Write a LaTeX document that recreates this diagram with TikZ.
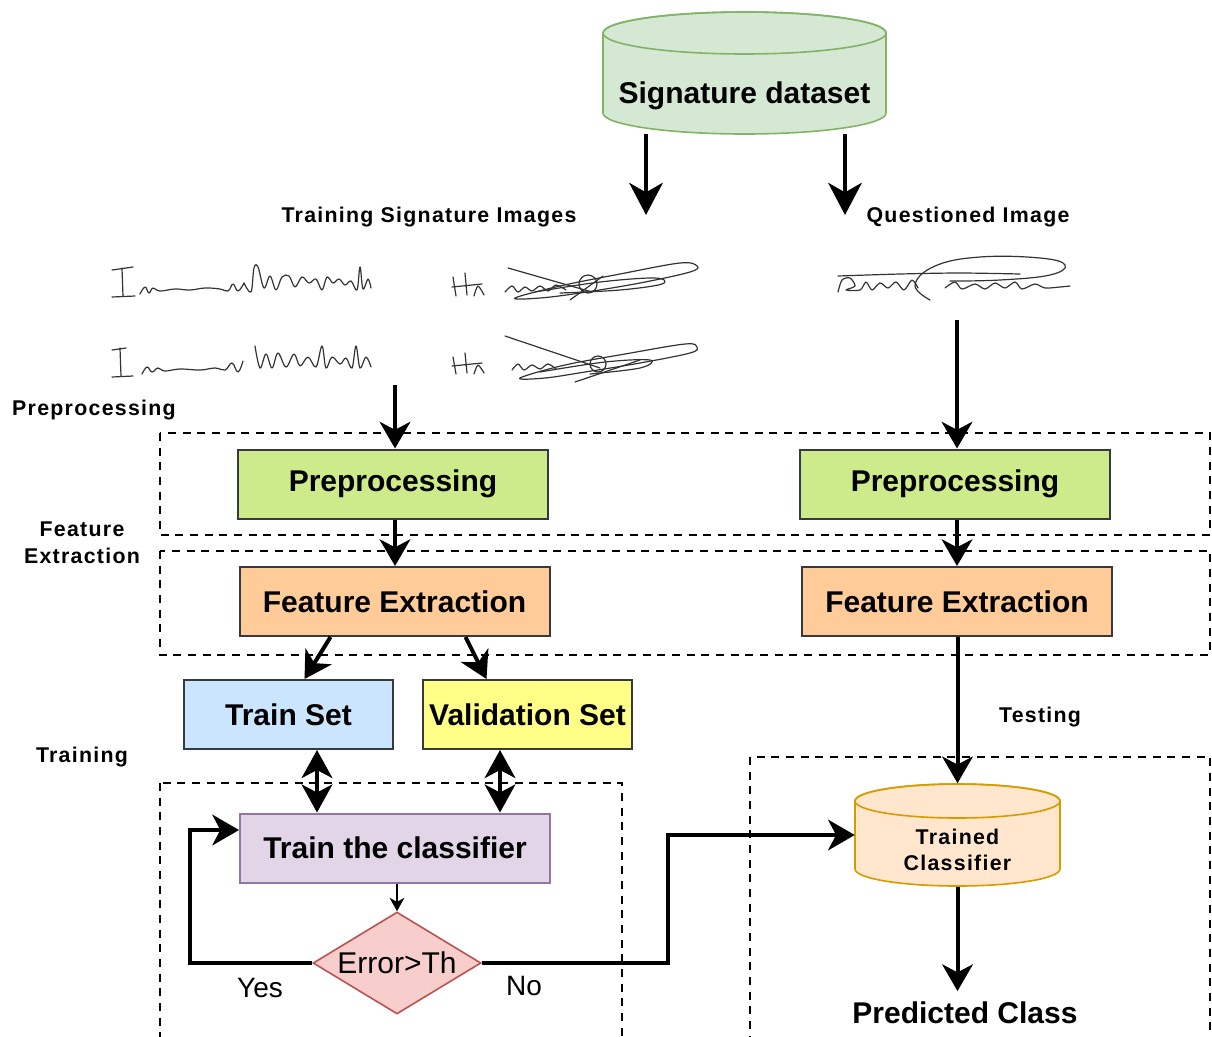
\documentclass[tikz,border=0pt]{standalone}
\usepackage{fontspec}
\setmainfont{Liberation Sans}
\newfontfamily\spacedsf[LetterSpace=6]{Liberation Sans}
\usepackage{xcolor}
\usetikzlibrary{shapes.geometric, positioning, arrows.meta, calc}
\newcommand{\px}{0.75pt}

\definecolor{dsfill}{HTML}{D5E8D4}
\definecolor{dsdraw}{HTML}{82B366}
\definecolor{prepgreen}{HTML}{CDEB8B}
\definecolor{featorange}{HTML}{FFCC99}
\definecolor{trainblue}{HTML}{CCE5FF}
\definecolor{valyellow}{HTML}{FFFF88}
\definecolor{clspurple}{HTML}{E1D5E7}
\definecolor{clsborder}{HTML}{9673A6}
\definecolor{errfill}{HTML}{F8CECC}
\definecolor{errdraw}{HTML}{B85450}
\definecolor{tcfill}{HTML}{FFE6CC}
\definecolor{tcdraw}{HTML}{D79B00}
\definecolor{boxgray}{HTML}{36393D}

\tikzset{
  boxlbl/.style={font=\fontsize{22.5}{27}\selectfont\bfseries},
  smalllbl/.style={font=\spacedsf\fontsize{16}{20}\selectfont\bfseries, align=center},
  procbox/.style={draw=boxgray, line width=1.5pt, minimum width=310*\px, minimum height=69*\px, inner sep=0pt, boxlbl},
  setbox/.style={procbox, minimum width=209*\px},
  decision/.style={diamond, draw=errdraw, fill=errfill, line width=1.2pt, aspect=1.65, inner sep=0pt,
    minimum width=168*\px, minimum height=102*\px, font=\fontsize{22.5}{27}\selectfont},
  arr/.style={line width=3pt, -{Stealth[length=20pt, width=23pt, inset=6pt]}},
  bigarr/.style={line width=3.6pt, -{Stealth[length=24pt, width=25pt, inset=7pt]}},
  dblarr/.style={line width=3pt, {Stealth[length=21pt, width=23pt, inset=6pt]}-{Stealth[length=21pt, width=23pt, inset=6pt]}},
  smallarr/.style={line width=1.5pt, -{Stealth[length=10pt, width=11pt, inset=3pt]}},
  band/.style={dash pattern=on 6pt off 5pt, line width=1.5pt},
  sig/.style={line width=0.9pt, black!80, line cap=round, line join=round},
}

\begin{document}
\begin{tikzpicture}[x=\px, y=-\px]
  \useasboundingbox (0,0) rectangle (1212,1036);

  % dashed stage frames
  \draw[band] (160,433) rectangle (1210,535);
  \draw[band] (160,551) rectangle (1210,655);
  \draw[band] (160,783) rectangle (622,1045);
  \draw[band] (750,757) rectangle (1210,1045);

  % signature dataset (cylinder)
  \filldraw[fill=dsfill, draw=dsdraw, line width=1.2pt] (603,33) -- (603,113)
    arc[start angle=180, end angle=0, x radius=141.5, y radius=21] -- (886,33)
    arc[start angle=0, end angle=-180, x radius=141.5, y radius=21] -- cycle;
  \draw[dsdraw, line width=1.2pt] (744.5,33) ellipse[x radius=141.5, y radius=21];
  \node[minimum width=283*\px, minimum height=122*\px, inner sep=0pt] (dataset) at (744.5,73) {};
  \node[boxlbl] (dstxt) at (744.5,96) {Signature dataset};

  \coordinate (dsL) at (646,215);
  \coordinate (dsR) at (845,215);
  \draw[bigarr] (dataset.south -| dsL) -- (dsL);
  \draw[bigarr] (dataset.south -| dsR) -- (dsR);

  \node[smalllbl] (trimg) at (429,217) {Training Signature Images};
  \node[smalllbl] (qimg) at (968,217) {Questioned Image};

  % handwritten samples
  \begin{scope}
    \draw[sig] (112,270) -- (133,267) (122,268) -- (123,296) (112,297) -- (135,296);
    \draw[sig] plot[smooth, tension=0.7] coordinates {(140,294) (145,287) (149,293) (153,288) (160,291) (175,289) (190,290) (205,288) (220,289) (228,291) (233,284) (238,291) (244,283)};
    \draw[sig] plot[smooth, tension=0.6] coordinates {(244,283) (251,292) (254,268) (258,267) (264,288) (270,276) (276,290) (282,277) (289,276) (295,287) (302,277) (309,283) (316,279) (322,290) (327,277) (333,283) (339,279) (345,285) (351,281) (357,290) (360,267) (363,289) (368,279) (371,288)};
    \draw[sig] (453,277) -- (456,296) (465,273) -- (467,295) (452,287) -- (482,284);
    \draw[sig] plot[smooth] coordinates {(474,296) (478,286) (484,295)};
    \draw[sig] plot[smooth] coordinates {(505,292) (512,286) (518,292) (525,287) (532,291) (540,286) (548,291) (556,285) (566,290)};
    \draw[sig] (508,268) -- (592,292);
    \draw[sig] plot[smooth cycle, tension=0.6] coordinates {(515,298) (560,286) (620,274) (680,263) (697,266) (690,272) (640,283) (580,293) (540,298)};
    \draw[sig] plot[smooth, tension=0.6] coordinates {(535,292) (600,282) (655,278) (662,284) (620,290) (560,293)};
    \draw[sig] (588,284) circle[radius=9];
    \draw[sig] (570,300) -- (603,276);
  \end{scope}
  \begin{scope}[shift={(0,78)}]
    \draw[sig] (112,272) -- (126,270) (120,270) -- (121,298) (112,299) -- (133,298);
    \draw[sig] plot[smooth, tension=0.7] coordinates {(142,296) (147,289) (152,294) (158,290) (165,293) (180,291) (200,292) (215,290) (225,292) (232,285) (238,294) (243,283)};
    \draw[sig] plot[smooth, tension=0.6] coordinates {(255,268) (260,290) (266,276) (272,290) (278,275) (286,289) (294,276) (300,288) (308,279) (316,289) (322,268) (326,290) (332,279) (340,286) (346,280) (352,290) (356,268) (360,290) (366,279) (371,289)};
    \draw[sig] (453,279) -- (456,296) (465,275) -- (467,295) (452,288) -- (482,285);
    \draw[sig] plot[smooth] coordinates {(474,296) (478,287) (484,295)};
    \draw[sig] plot[smooth] coordinates {(512,292) (518,286) (524,292) (532,287) (540,291) (548,286) (556,291)};
    \draw[sig] (505,258) -- (600,290);
    \draw[sig] plot[smooth cycle, tension=0.6] coordinates {(520,300) (565,287) (625,276) (685,266) (697,269) (690,275) (640,285) (585,294) (545,300)};
    \draw[sig] plot[smooth, tension=0.6] coordinates {(540,294) (605,284) (650,282) (640,290) (590,296)};
    \draw[sig] (598,286) circle[radius=8];
    \draw[sig] (575,304) -- (640,282);
  \end{scope}
  % questioned sample
  \draw[sig] plot[smooth] coordinates {(838,292) (842,280) (850,278) (855,286) (846,290) (860,290) (866,282) (872,290) (880,283) (888,288) (896,282) (904,290) (912,280) (918,288)};
  \draw[sig] plot[smooth] coordinates {(838,276) (900,274) (960,273) (1020,274)};
  \draw[sig] plot[smooth, tension=0.7] coordinates {(930,300) (915,285) (935,266) (980,257) (1040,258) (1065,265) (1050,275) (1000,280) (950,281)};
  \draw[sig] plot[smooth] coordinates {(945,288) (955,282) (962,289) (975,284) (985,289) (995,283) (1005,288) (1015,282) (1022,289) (1035,284) (1045,288) (1060,287) (1070,286)};

  % stage labels
  \node[smalllbl] (lblprep) at (94,410) {Preprocessing};
  \node[smalllbl] (lblfeat) at (82,543) {Feature\\Extraction};
  \node[smalllbl] (lbltrain) at (82,757) {Training};
  \node[smalllbl] (lbltest) at (1040,717) {Testing};

  % training branch
  \node[procbox, fill=prepgreen] (prepL) at (393,484) {Preprocessing};
  \node[procbox, fill=featorange] (featL) at (394.5,601.5) {Feature Extraction};
  \node[setbox, fill=trainblue] (trainset) at (288.5,714.5) {Train Set};
  \node[setbox, fill=valyellow] (valset) at (527.5,714.5) {Validation Set};
  \node[procbox, draw=clsborder, fill=clspurple] (classifier) at (395,848) {Train the classifier};
  \node[decision] (err) at (397,963) {Error>Th};

  % testing branch
  \node[procbox, fill=prepgreen] (prepR) at (955,484) {Preprocessing};
  \node[procbox, fill=featorange] (featR) at (957,601.5) {Feature Extraction};

  % trained classifier (cylinder)
  \filldraw[fill=tcfill, draw=tcdraw, line width=1.2pt] (855,801) -- (855,869)
    arc[start angle=180, end angle=0, x radius=102.5, y radius=17] -- (1060,801)
    arc[start angle=0, end angle=-180, x radius=102.5, y radius=17] -- cycle;
  \draw[tcdraw, line width=1.2pt] (957.5,801) ellipse[x radius=102.5, y radius=17];
  \node[minimum width=205*\px, minimum height=103*\px, inner sep=0pt] (trained) at (957.5,835) {};
  \node[smalllbl] (tctxt) at (957.5,850) {Trained\\Classifier};

  \node[boxlbl, inner sep=2pt] (pred) at (965,1013) {Predicted Class};

  % connectors
  \coordinate (trsrc) at (395,385);
  \coordinate (qsrc) at (957,320);
  \draw[arr] (trsrc) -- (trsrc |- prepL.north);
  \draw[arr] (qsrc) -- (qsrc |- prepR.north);
  \draw[arr] (prepL.south -| 395,0) -- (featL.north -| 395,0);
  \draw[arr] (prepR.south -| 957,0) -- (featR.north -| 957,0);
  \draw[arr] ($(featL.south)+(-64,0)$) -- ($(trainset.north)+(16,0)$);
  \draw[arr] ($(featL.south)+(71,0)$) -- ($(valset.north)+(-41,0)$);
  \draw[dblarr] (trainset.south -| 317,0) -- (classifier.north -| 317,0);
  \draw[dblarr] (valset.south -| 500,0) -- (classifier.north -| 500,0);
  \draw[smallarr] (classifier.south -| err.north) -- (err.north);
  \draw[arr] (err.west) -- (190,963) |- ($(classifier.west)+(0,-18)$);
  \draw[arr] (err.east) -- (668,963) |- (trained.west);
  \draw[arr] (featR.south -| trained.north) -- (trained.north);
  \draw[arr] (trained.south) -- ($(trained.south |- pred.north)+(0,-8)$);

  \node[font=\fontsize{21}{25}\selectfont] (yes) at (260,988) {Yes};
  \node[font=\fontsize{21}{25}\selectfont] (no) at (524,986) {No};
\end{tikzpicture}
\end{document}
